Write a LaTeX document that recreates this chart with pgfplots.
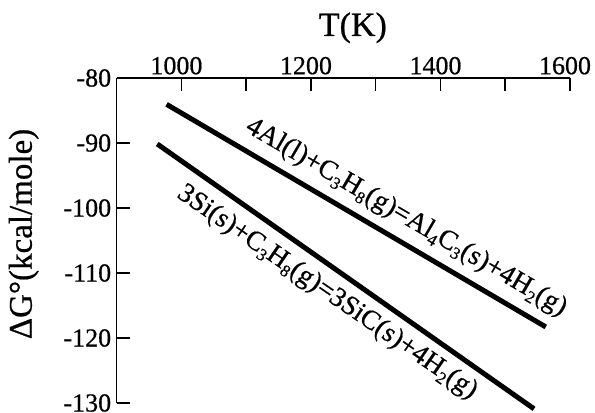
\documentclass[border=0pt]{standalone}
\usepackage{fontspec}
\setmainfont{Liberation Serif}[FakeBold=0.6]
\usepackage{pgfplots}
\pgfplotsset{compat=1.18}
\newcommand\sub[1]{\raisebox{-0.18em}{\fontsize{17bp}{17bp}\selectfont #1}}
\begin{document}
\begin{tikzpicture}
\begin{axis}[
  scale only axis, width=453.3bp, height=325bp,
  xmin=900, xmax=1600, ymin=-130, ymax=-80,
  axis x line=top, axis y line=left,
  axis line style={-, line width=1.5bp},
  tick align=inside, major tick length=13bp,
  every tick/.style={black, line width=1.5bp},
  xtick={1000,1100,...,1600}, xticklabels={1000,,1200,,1400,,1600},
  ytick={-130,-120,...,-80}, yticklabels={-130,-120,-110,-100,-90,-80},
  tick label style={font=\fontsize{26bp}{30bp}\selectfont},
  xticklabel style={xshift=-5bp},
  yticklabel style={xshift=-2bp},
  xlabel={T(K)},
  xlabel style={at={(axis description cs:0.521,1)}, anchor=base, yshift=42bp, font=\fontsize{34bp}{40bp}\selectfont},
  ylabel={ΔG°(kcal/mole)},
  ylabel style={at={(axis description cs:-0.205,0.52)}, anchor=center, font=\fontsize{33bp}{40bp}\selectfont},
  clip=false,
]
\addplot[black, line width=5bp] coordinates {(977,-84.05) (1562.6,-118.3)};
\addplot[black, line width=5bp] coordinates {(962.6,-90.15) (1544.5,-130.9)};
\node[rotate=-30.3, font=\fontsize{27.5bp}{30bp}\selectfont] at (axis cs:1347,-101.5) {4Al(l)+C\sub{3}H\sub{8}(g)=Al\sub{4}C\sub{3}(s)+4H\sub{2}(g)};
\node[rotate=-34.5, font=\fontsize{27.5bp}{30bp}\selectfont] at (axis cs:1225,-113.0) {3Si(s)+C\sub{3}H\sub{8}(g)=3SiC(s)+4H\sub{2}(g)};
\end{axis}
\pgfresetboundingbox
\path (current axis.south west) ++(-116.7bp,-10bp) rectangle ++(595bp,413bp);
\end{tikzpicture}
\end{document}
